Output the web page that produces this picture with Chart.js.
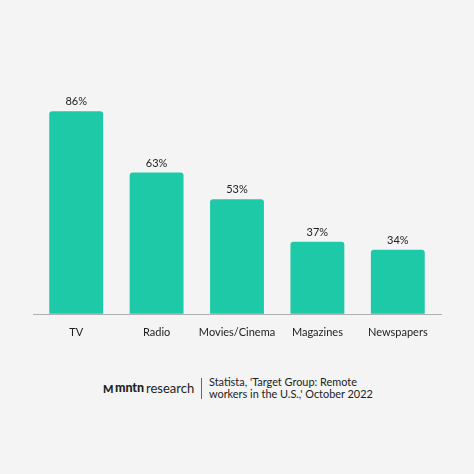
<!DOCTYPE html>
<html>
<head>
<meta charset="utf-8">
<script src="https://cdn.jsdelivr.net/npm/chart.js@4"></script>
<style>
  html, body { margin:0; padding:0; background:#f4f4f4; width:474px; height:474px; overflow:hidden; }
  #wrap { position:absolute; left:0; top:0; width:474px; height:343px; }
  #footer { position:absolute; left:0; top:376px; width:474px; height:30px; font-family: Lato, "Open Sans", sans-serif; color:#222; }
  .lg { position:absolute; top:4px; font-size:13px; white-space:nowrap; line-height:16px; }
  #sep { position:absolute; left:201px; top:2px; width:1px; height:21px; background:#666; }
  #src { position:absolute; left:209px; top:0px; font-size:10.9px; line-height:12px; white-space:nowrap; color:#222; }
</style>
</head>
<body>
<div id="wrap"><canvas id="c"></canvas></div>
<div id="footer">
  <div class="lg" style="left:103px;font-weight:900;font-size:11px;letter-spacing:-0.5px;top:5px;">M</div>
  <div class="lg" style="left:115px;font-weight:900;font-size:12.5px;letter-spacing:-0.1px;">mntn</div>
  <div class="lg" style="left:146px;">research</div>
  <div id="sep"></div>
  <div id="src">Statista, 'Target Group: Remote<br>workers in the U.S.,' October 2022</div>
</div>
<script>
const categories = ["TV", "Radio", "Movies/Cinema", "Magazines", "Newspapers"];
const values = [86, 63, 53, 37, 34];
const labelSuffix = "%";

const valueLabels = {
  id: 'valueLabels',
  afterDatasetsDraw(chart) {
    const ctx = chart.ctx;
    const meta = chart.getDatasetMeta(0);
    ctx.save();
    ctx.font = '11px Lato, "Open Sans", sans-serif';
    ctx.fillStyle = '#222';
    ctx.textAlign = 'center';
    ctx.textBaseline = 'bottom';
    meta.data.forEach((bar, i) => {
      ctx.fillText(values[i] + labelSuffix, bar.x, bar.y - 4);
    });
    ctx.restore();
  }
};
const baseLine = {
  id: 'baseLine',
  afterDatasetsDraw(chart) {
    const ctx = chart.ctx;
    const y = Math.round(chart.scales.y.getPixelForValue(chart.scales.y.min)) + 0.5;
    ctx.save();
    ctx.strokeStyle = '#b0b0b0';
    ctx.lineWidth = 1;
    ctx.beginPath();
    ctx.moveTo(33, y);
    ctx.lineTo(442, y);
    ctx.stroke();
    ctx.restore();
  }
};

new Chart(document.getElementById('c'), {
  type: 'bar',
  data: {
    labels: categories,
    datasets: [{
      data: values,
      backgroundColor: '#1ec9a7',
      borderRadius: { topLeft: 3, topRight: 3 },
      borderSkipped: 'bottom',
      categoryPercentage: 0.67,
      barPercentage: 1.0
    }]
  },
  options: {
    responsive: true,
    maintainAspectRatio: false,
    animation: false,
    layout: { padding: { left: 36, right: 36, top: 74, bottom: 0 } },
    plugins: { legend: { display: false }, tooltip: { enabled: false } },
    scales: {
      x: {
        grid: { display: false },
        border: { display: false },
        ticks: { color: '#222', maxRotation: 0, minRotation: 0, autoSkip: false,
                 font: { family: 'Lato, "Open Sans", sans-serif', size: 11 }, padding: 4 }
      },
      y: {
        display: false,
        min: 10, max: 100
      }
    }
  },
  plugins: [valueLabels, baseLine]
});
</script>
</body>
</html>
